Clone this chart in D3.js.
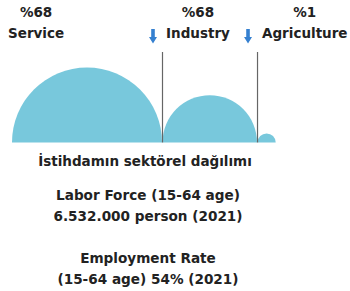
<!DOCTYPE html>
<html lang="tr">
<head>
<meta charset="utf-8">
<title>Sectoral employment</title>
<script src="https://cdn.jsdelivr.net/npm/d3@7"></script>
<style>
  body { margin: 0; background: #fff; }
  text { font-family: "DejaVu Sans", sans-serif; fill: #222; }
</style>
</head>
<body>
<script>
var categories = ["Service", "Industry", "Agriculture"];
var pctLabels = ["%68", "%68", "%1"];
var shares = [68, 27, 1];   // sizes read from the half circles
var title = "İstihdamın sektörel dağılımı";
var notes = ["Labor Force (15-64 age)", "6.532.000 person (2021)", "", "Employment Rate", "(15-64 age) 54% (2021)"];

var width = 350, height = 291;
var baseY = 142.5, startX = 12;

var svg = d3.select("body").append("svg")
    .attr("width", width)
    .attr("height", height);

var r = d3.scaleSqrt().domain([0, 68]).range([0, 75]);

// lay the half circles side by side
var items = [];
var x = startX;
shares.forEach(function(v, i) {
  var rad = r(v);
  items.push({ name: categories[i], label: pctLabels[i], r: rad, cx: x + rad, left: x });
  x += rad * 2 + 0.5;
});

var arc = d3.arc().innerRadius(0).startAngle(-Math.PI / 2).endAngle(Math.PI / 2);

svg.selectAll("path.half").data(items).enter()
  .append("path")
    .attr("class", "half")
    .attr("transform", function(d) { return "translate(" + d.cx + "," + baseY + ")"; })
    .attr("d", function(d) { return arc({ outerRadius: d.r }); })
    .attr("fill", "#78c8dc");

// divider lines + arrows for the 2nd and 3rd categories
var marked = items.slice(1);
svg.selectAll("line.div").data(marked).enter()
  .append("line")
    .attr("x1", function(d) { return d.left; })
    .attr("x2", function(d) { return d.left; })
    .attr("y1", 52)
    .attr("y2", baseY)
    .attr("stroke", "#666")
    .attr("stroke-width", 1.2);

svg.selectAll("path.arrow").data(marked).enter()
  .append("path")
    .attr("class", "arrow")
    .attr("transform", function(d) { return "translate(" + (d.left - 9.5) + ",29)"; })
    .attr("d", "M-1.8,0 L1.8,0 L1.8,8 L4,8 L0,14.5 L-4,8 L-1.8,8 Z")
    .attr("fill", "#3580d0");

// category labels
var labelX = [8, 166, 262];
var g = svg.selectAll("g.lab").data(items).enter()
  .append("g")
    .attr("class", "lab");

g.append("text")
    .attr("x", function(d, i) { return labelX[i]; })
    .attr("y", 38)
    .attr("font-size", 13.5)
    .attr("font-weight", 700)
    .text(function(d) { return d.name; });

g.append("text")
    .attr("x", function(d, i) { return labelX[i]; })
    .attr("y", 17)
    .attr("font-size", 13.5)
    .attr("font-weight", 700)
    .attr("text-anchor", "middle")
    .attr("dx", function(d, i) {
      var w = this.parentNode.querySelector("text").getComputedTextLength();
      return w / 2;
    })
    .text(function(d) { return d.label; });

svg.append("text")
    .attr("x", 145)
    .attr("y", 166)
    .attr("text-anchor", "middle")
    .attr("font-size", 13.5)
    .attr("font-weight", 700)
    .text(title);

var noteY = [200, 221, 0, 263, 284];
svg.selectAll("text.note").data(notes).enter()
  .append("text")
    .attr("class", "note")
    .attr("x", 148)
    .attr("y", function(d, i) { return noteY[i]; })
    .attr("text-anchor", "middle")
    .attr("font-size", 13.6)
    .attr("font-weight", 700)
    .text(function(d) { return d; });
</script>
</body>
</html>
